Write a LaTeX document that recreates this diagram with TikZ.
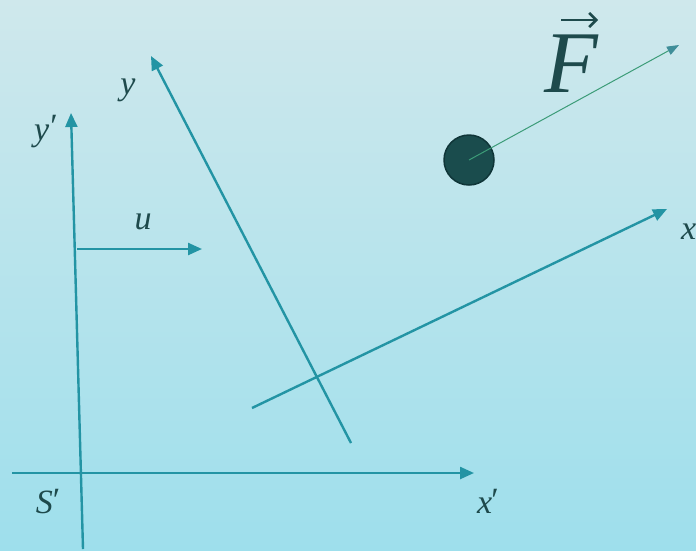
\documentclass[tikz,border=0pt]{standalone}
\usepackage{fontspec}
\setmainfont{Liberation Serif}
\usetikzlibrary{arrows.meta}
\definecolor{axis}{HTML}{2394A4}
\definecolor{txt}{HTML}{1E4A4C}
\definecolor{bgtop}{HTML}{CFE8EC}
\definecolor{bgbot}{HTML}{9EDFEC}
\definecolor{ball}{HTML}{1A4C4D}
\definecolor{ballrim}{HTML}{0F3538}
\definecolor{force}{HTML}{3C9C78}
\begin{document}
\begin{tikzpicture}[x=1pt,y=-1pt,
  ax/.style={draw=axis,line width=2.4pt,-{Triangle[length=14pt,width=12pt]}},
  lab/.style={text=txt,font=\fontsize{34}{36}\selectfont\itshape,inner sep=0pt}]
\shade[top color=bgtop,bottom color=bgbot] (0,0) rectangle (696,550);
\useasboundingbox (0,0) rectangle (696,550);
\begin{scope}
\clip (0,0) rectangle (696,550);
% coordinates
\coordinate (ypb) at (83,549);
\coordinate (ypt) at (71,113);
\coordinate (xpl) at (12,473);
\coordinate (xpr) at (474,473);
\coordinate (ua) at (77,249);
\coordinate (ub) at (202,249);
\coordinate (yb) at (351,443);
\coordinate (yt) at (151,56);
\coordinate (xl) at (252,408);
\coordinate (xr) at (667,209);
\coordinate (ft) at (679,45);
% axes
\draw[ax] (xpl) -- (xpr);
\draw[ax] (ypb) -- (ypt);
\draw[ax] (ua) -- (ub);
\draw[ax] (yb) -- (yt);
\draw[ax] (xl) -- (xr);
% ball and force
\node[circle,fill=ball,draw=ballrim,line width=1.5pt,minimum size=50pt,inner sep=0pt] (m) at (469,160) {};
\draw[force,line width=1pt,-{Triangle[length=12pt,width=9pt,color=axis!70!gray]}] (m.center) -- (ft);
% labels
\node[lab] (lyp) at (46,132) {y\kern1pt\raisebox{3pt}{\textup{\char"2032}}};
\node[lab] (lu) at (143,222) {u};
\node[lab] (ly) at (128,90) {y};
\node[lab] (lS) at (48,502) {S\raisebox{2pt}{\textup{\char"2032}}};
\node[lab] (lxp) at (488,501) {x\kern-1pt\raisebox{2pt}{\textup{\char"2032}}};
\node[lab,anchor=west] (lx) at (681,232) {x};
\node[text=txt,inner sep=0pt,anchor=base,font=\fontsize{88}{90}\selectfont\itshape] (lF) at (571,92) {F};
\coordinate (fa) at (561,20);
\coordinate (fb) at (598,20);
\draw[txt,line width=2.6pt,-{Straight Barb[length=7pt,width=14pt,line width=2.6pt]}] (fa) -- (fb);
\end{scope}
\end{tikzpicture}
\end{document}
